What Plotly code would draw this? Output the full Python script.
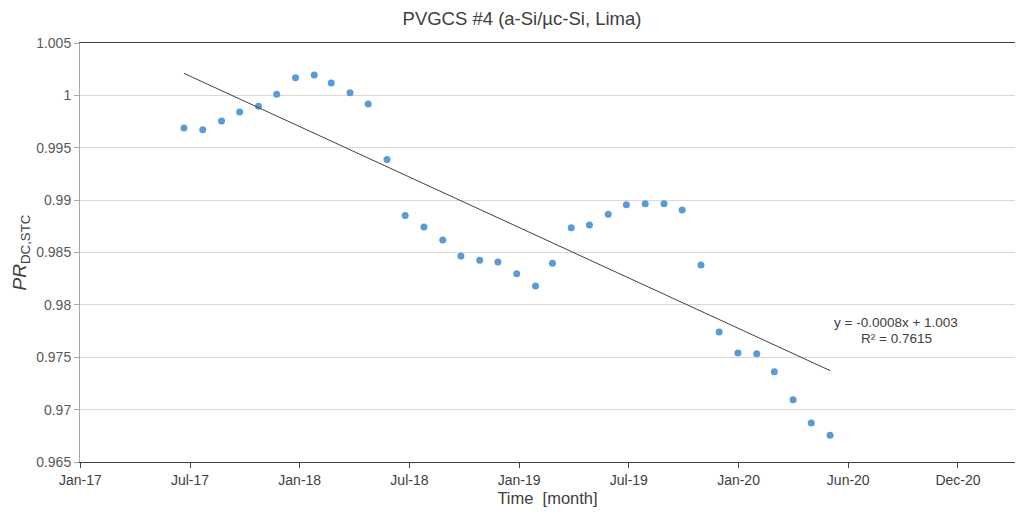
import datetime as dt
import numpy as np
import plotly.graph_objects as go

# ---- data ----
months = ["2017-06-30", "2017-07-31", "2017-08-31", "2017-09-30", "2017-10-31", "2017-11-30",
          "2017-12-31", "2018-01-31", "2018-02-28", "2018-03-31", "2018-04-30", "2018-05-31",
          "2018-06-30", "2018-07-31", "2018-08-31", "2018-09-30", "2018-10-31", "2018-11-30",
          "2018-12-31", "2019-01-31", "2019-02-28", "2019-03-31", "2019-04-30", "2019-05-31",
          "2019-06-30", "2019-07-31", "2019-08-31", "2019-09-30", "2019-10-31", "2019-11-30",
          "2019-12-31", "2020-01-31", "2020-02-29", "2020-03-31", "2020-04-30", "2020-05-31"]
pr_values = [0.99689, 0.99673, 0.99755, 0.99841, 0.99895, 1.00010,
             1.00168, 1.00194, 1.00117, 1.00025, 0.99918, 0.99388,
             0.98854, 0.98743, 0.98619, 0.98467, 0.98425, 0.98410,
             0.98298, 0.98181, 0.98397, 0.98736, 0.98762, 0.98864,
             0.98956, 0.98965, 0.98965, 0.98905, 0.98381, 0.97740,
             0.97540, 0.97533, 0.97362, 0.97095, 0.96873, 0.96755]
x_tick_labels = ["Jan-17", "Jul-17", "Jan-18", "Jul-18", "Jan-19", "Jul-19", "Jan-20", "Jun-20", "Dec-20"]
y_tick_vals = [0.965, 0.97, 0.975, 0.98, 0.985, 0.99, 0.995, 1.0, 1.005]
y_tick_labels = ["0.965", "0.97", "0.975", "0.98", "0.985", "0.99", "0.995", "1", "1.005"]
trend_eq = "y = -0.0008x + 1.003"
trend_r2 = "R² = 0.7615"

# ---- axis scale (Excel-style fixed day interval) ----
base = dt.datetime(2017, 1, 10)
step_days = 181
tick_dates = [base + dt.timedelta(days=step_days * k) for k in range(len(x_tick_labels))]
x_range = [base - dt.timedelta(hours=12), base + dt.timedelta(days=step_days * 8.52)]

# ---- linear trendline (fit on month index) ----
idx = np.arange(1, len(pr_values) + 1)
slope, intercept = np.polyfit(idx, pr_values, 1)
trend_x = [months[0], months[-1]]
trend_y = [slope * idx[0] + intercept, slope * idx[-1] + intercept]

fig = go.Figure()
fig.add_trace(go.Scatter(x=months, y=pr_values, mode="markers",
                         marker=dict(color="#5b9bd5", size=7), showlegend=False))
fig.add_trace(go.Scatter(x=trend_x, y=trend_y, mode="lines",
                         line=dict(color="#404040", width=1), showlegend=False))

font_family = "Liberation Sans, Arial, sans-serif"
eq_x = base + dt.timedelta(days=1346)
fig.add_annotation(x=eq_x, y=0.97829, text=trend_eq, showarrow=False,
                   font=dict(family=font_family, size=13.5, color="#404040"))
fig.add_annotation(x=eq_x, y=0.97676, text=trend_r2, showarrow=False,
                   font=dict(family=font_family, size=13.5, color="#404040"))

fig.update_layout(
    width=1018, height=514,
    margin=dict(l=80, r=3, t=43, b=52),
    paper_bgcolor="white", plot_bgcolor="white",
    font=dict(family=font_family, color="#595959"),
    title=dict(text="PVGCS #4 (a-Si/µc-Si, Lima)", x=522 / 1018, xanchor="center",
               y=1 - 19 / 514, yanchor="middle",
               font=dict(size=18.5, color="#404040", family=font_family)),
    xaxis=dict(type="date", range=x_range, tickvals=tick_dates, ticktext=x_tick_labels,
               showgrid=False, zeroline=False, showline=True, linecolor="#404040",
               linewidth=1, mirror=True, ticks="outside", ticklen=5, tickcolor="#404040",
               tickfont=dict(size=14, color="#404040"),
               title=dict(text="Time  [month]", standoff=5,
                          font=dict(size=16.5, color="#404040"))),
    yaxis=dict(range=[0.965, 1.005], tickvals=y_tick_vals, ticktext=y_tick_labels,
               showgrid=True, gridcolor="#d9d9d9", gridwidth=1, zeroline=False,
               showline=True, linecolor="#a6a6a6", linewidth=1,
               ticks="outside", ticklen=5, tickcolor="#a6a6a6",
               tickfont=dict(size=14, color="#595959"),
               title=dict(text="<i>PR</i><sub>DC,STC</sub>",
                          standoff=4, font=dict(size=19, color="#404040"))),
)

fig.write_html("out.html")
